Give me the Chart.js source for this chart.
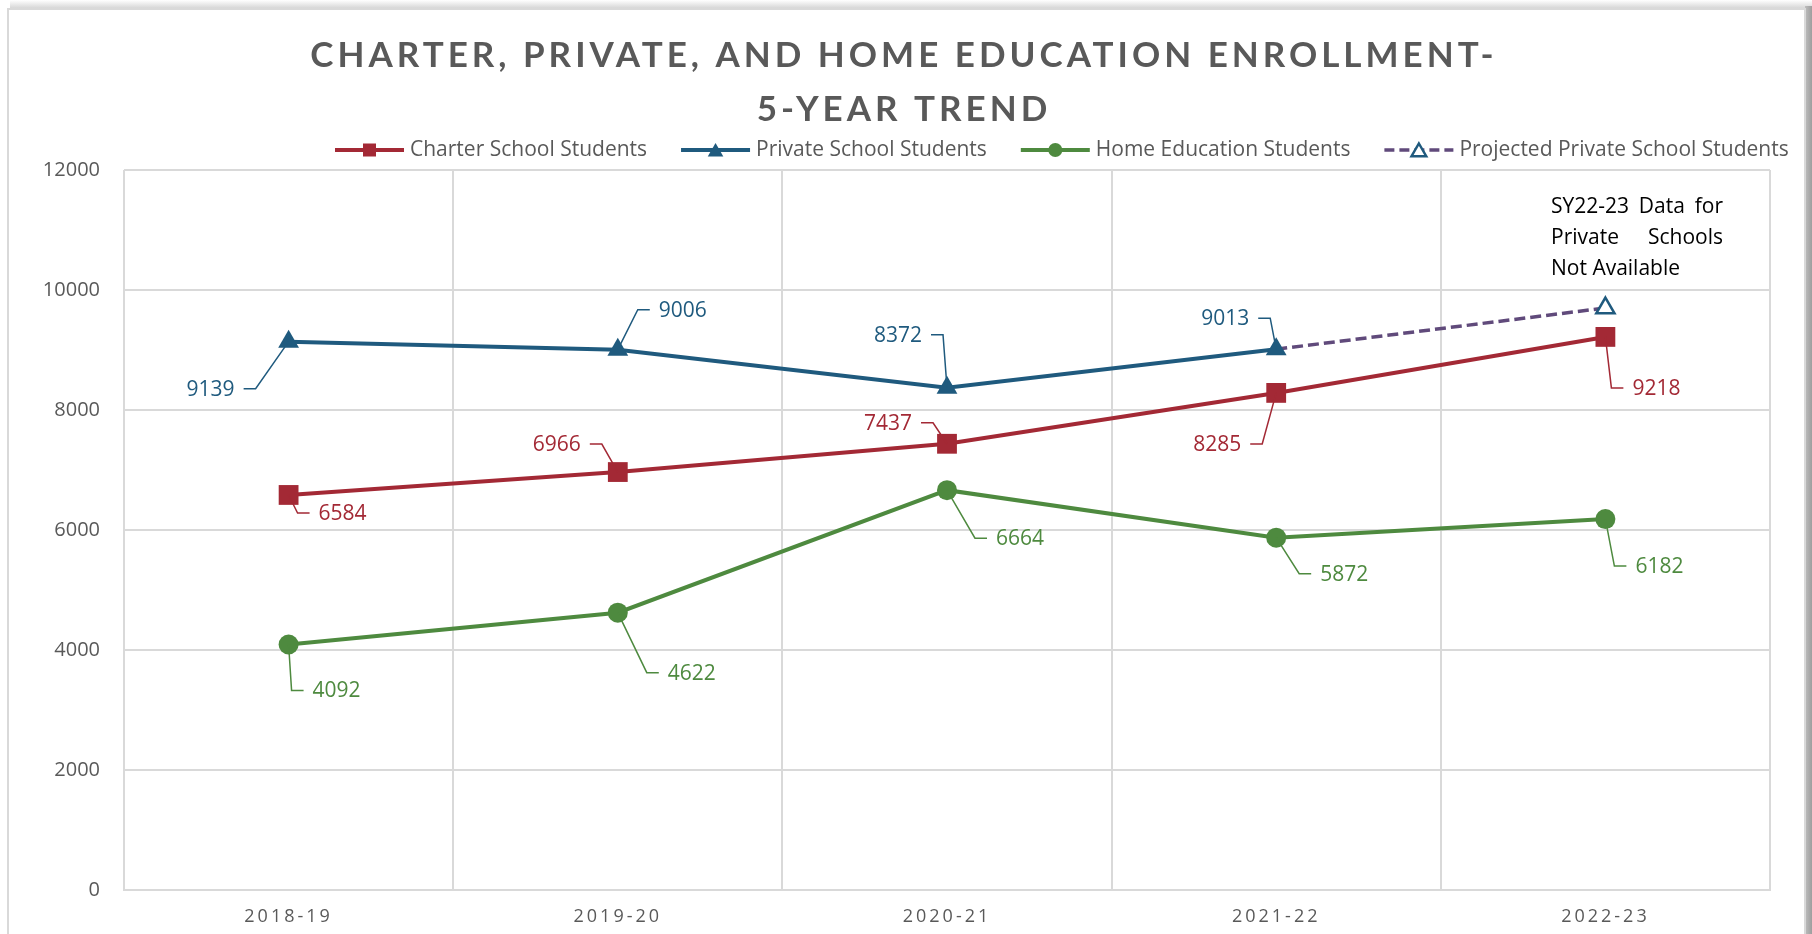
<!DOCTYPE html>
<html>
<head>
<meta charset="utf-8">
<title>Charter, Private, and Home Education Enrollment</title>
<script src="https://cdn.jsdelivr.net/npm/chart.js@4.4.1/dist/chart.umd.min.js"></script>
<style>
  html, body { margin: 0; padding: 0; background: #ffffff; }
  #wrap { width: 1812px; height: 934px; }
</style>
</head>
<body>
<div id="wrap"><canvas id="enrollment" width="1812" height="934"></canvas></div>
<script>
// ---- data ----
const categories = ['2018-19', '2019-20', '2020-21', '2021-22', '2022-23'];
const charterStudents = [6584, 6966, 7437, 8285, 9218];
const privateStudents = [9139, 9006, 8372, 9013, null];
const homeStudents = [4092, 4622, 6664, 5872, 6182];
const projectedPrivate = [null, null, null, 9013, 9700];
const yMin = 0, yMax = 12000, yStep = 2000;

const titleLines = ['CHARTER, PRIVATE, AND HOME EDUCATION ENROLLMENT-', '5-YEAR TREND'];
const seriesNames = ['Charter School Students', 'Private School Students', 'Home Education Students', 'Projected Private School Students'];
const noteLines = ['SY22-23 Data for', 'Private Schools', 'Not Available'];

// ---- styling ----
const FONT = '"Open Sans", "Noto Sans", sans-serif';
const TITLE_FONT = 'Lato, "Open Sans", sans-serif';
const GREY_TEXT = '#595959';
const GRID = '#d9d9d9';
const RED = '#a32935';
const BLUE = '#1f5a7e';
const GREEN = '#4e8a3f';
const PURPLE = '#604a7b';

// value label placement: offset of the label centre from its point [dx, dy]
const charterLabelPos = [[54, 18], [-61, -28], [-59, -21], [-59, 51], [51, 51]];
const privateLabelPos = [[-78, 47], [65, -40], [-49, -53], [-51, -31], null];
const homeLabelPos = [[48, 46], [74, 60], [73, 48], [68, 36], [54, 47]];

// draw with extra tracking between letters
function withSpacing(obj, method, spacing) {
  if (!obj || obj['__spaced_' + method]) return;
  const orig = obj[method].bind(obj);
  obj[method] = function (...args) {
    const ctx = this.ctx;
    ctx.save();
    ctx.letterSpacing = spacing;
    orig(...args);
    ctx.restore();
  };
  obj['__spaced_' + method] = true;
}

function marker(ctx, style, x, y, r, fill, stroke, lw) {
  ctx.save();
  ctx.beginPath();
  if (style === 'rect') {
    ctx.rect(x - r, y - r, 2 * r, 2 * r);
  } else if (style === 'circle') {
    ctx.arc(x, y, r, 0, Math.PI * 2);
  } else {
    ctx.moveTo(x, y - r);
    ctx.lineTo(x + r * 0.866, y + r * 0.5);
    ctx.lineTo(x - r * 0.866, y + r * 0.5);
    ctx.closePath();
  }
  ctx.fillStyle = fill;
  ctx.fill();
  if (stroke) { ctx.lineWidth = lw; ctx.strokeStyle = stroke; ctx.stroke(); }
  ctx.restore();
}

const framePlugin = {
  id: 'frame',
  beforeDraw(chart) {
    const { ctx, width, height } = chart;
    ctx.save();
    ctx.fillStyle = '#ffffff';
    ctx.fillRect(0, 0, width, height);
    const gTop = ctx.createLinearGradient(0, 0, 0, 9);
    gTop.addColorStop(0, '#ffffff');
    gTop.addColorStop(1, '#d2d2d2');
    ctx.fillStyle = gTop;
    ctx.fillRect(10, 0, width - 10, 9);
    const gRight = ctx.createLinearGradient(width - 7, 0, width, 0);
    gRight.addColorStop(0, '#bdbdbd');
    gRight.addColorStop(1, '#9e9e9e');
    ctx.fillStyle = gRight;
    ctx.fillRect(width - 7, 6, 7, height);
    ctx.fillStyle = '#ffffff';
    ctx.fillRect(8, 9, width - 16, height);
    ctx.strokeStyle = GRID;
    ctx.lineWidth = 2;
    ctx.strokeRect(8, 9, width - 15, height + 10);
    ctx.restore();
  },
  afterLayout(chart) {
    withSpacing(chart.titleBlock, 'draw', '4px');
    withSpacing(chart.scales.x, 'drawLabels', '3px');
  }
};

const legendPlugin = {
  id: 'lineLegend',
  afterDraw(chart) {
    const ctx = chart.ctx;
    const y = 150;
    let x = 335;
    const items = [
      { name: seriesNames[0], color: RED, style: 'rect', dash: [], r: 6.5, fill: RED },
      { name: seriesNames[1], color: BLUE, style: 'triangle', dash: [], r: 9, fill: BLUE },
      { name: seriesNames[2], color: GREEN, style: 'circle', dash: [], r: 7, fill: GREEN },
      { name: seriesNames[3], color: PURPLE, style: 'triangle', dash: [10, 5], r: 8.5, fill: '#ffffff', stroke: BLUE }
    ];
    ctx.save();
    ctx.font = '21px ' + FONT;
    ctx.textBaseline = 'middle';
    items.forEach(it => {
      ctx.save();
      ctx.strokeStyle = it.color;
      ctx.lineWidth = it.dash.length ? 3.5 : 4;
      ctx.setLineDash(it.dash);
      ctx.beginPath();
      ctx.moveTo(x, y);
      ctx.lineTo(x + 69, y);
      ctx.stroke();
      ctx.restore();
      marker(ctx, it.style, x + 34.5, y + (it.style === 'triangle' ? 2 : 0), it.r, it.fill, it.stroke, 2.5);
      ctx.fillStyle = GREY_TEXT;
      ctx.fillText(it.name, x + 75, y);
      x += 75 + ctx.measureText(it.name).width + 34;
    });
    ctx.restore();
  }
};

const valueLabelPlugin = {
  id: 'valueLabels',
  afterDatasetsDraw(chart) {
    const ctx = chart.ctx;
    ctx.save();
    ctx.font = '21px ' + FONT;
    ctx.textBaseline = 'middle';
    ctx.textAlign = 'center';
    chart.data.datasets.forEach((ds, i) => {
      if (!ds.labelPos) return;
      const meta = chart.getDatasetMeta(i);
      ds.data.forEach((v, j) => {
        const pos = ds.labelPos[j];
        if (v === null || !pos) return;
        const el = meta.data[j];
        const px = el.x, py = el.y;
        const text = String(v);
        const w = ctx.measureText(text).width;
        const cx = px + pos[0], cy = py + pos[1];
        let sx, ex;
        if (pos[0] < 0) { sx = cx + w / 2 + 9; ex = sx + 12; }
        else { sx = cx - w / 2 - 9; ex = sx - 12; }
        ctx.strokeStyle = ds.borderColor;
        ctx.lineWidth = 1.5;
        ctx.beginPath();
        ctx.moveTo(px, py);
        ctx.lineTo(ex, cy);
        ctx.lineTo(sx, cy);
        ctx.stroke();
        ctx.fillStyle = ds.borderColor;
        ctx.fillText(text, cx, cy + 1);
      });
    });
    ctx.restore();
  }
};

const notePlugin = {
  id: 'note',
  afterDraw(chart) {
    const ctx = chart.ctx;
    const area = chart.chartArea;
    const left = area.right - 219, right = area.right - 47;
    ctx.save();
    ctx.font = '21px ' + FONT;
    ctx.fillStyle = '#000000';
    ctx.textBaseline = 'middle';
    ctx.textAlign = 'left';
    noteLines.forEach((line, k) => {
      const y = area.top + 37 + k * 31;
      const words = line.split(' ');
      if (k === noteLines.length - 1 || words.length < 2) {
        ctx.fillText(line, left, y);
        return;
      }
      const total = words.reduce((s, wd) => s + ctx.measureText(wd).width, 0);
      const gap = (right - left - total) / (words.length - 1);
      let x = left;
      words.forEach(wd => {
        ctx.fillText(wd, x, y);
        x += ctx.measureText(wd).width + gap;
      });
    });
    ctx.restore();
  }
};

new Chart(document.getElementById('enrollment'), {
  type: 'line',
  data: {
    labels: categories,
    datasets: [
      {
        label: seriesNames[0], data: charterStudents, labelPos: charterLabelPos,
        borderColor: RED, backgroundColor: RED, borderWidth: 4,
        pointStyle: 'rect', pointRadius: 14, pointHoverRadius: 14,
        pointBackgroundColor: RED, pointBorderWidth: 0
      },
      {
        label: seriesNames[1], data: privateStudents, labelPos: privateLabelPos,
        borderColor: BLUE, backgroundColor: BLUE, borderWidth: 4,
        pointStyle: 'triangle', pointRadius: 12, pointHoverRadius: 12,
        pointBackgroundColor: BLUE, pointBorderWidth: 0
      },
      {
        label: seriesNames[2], data: homeStudents, labelPos: homeLabelPos,
        borderColor: GREEN, backgroundColor: GREEN, borderWidth: 4,
        pointStyle: 'circle', pointRadius: 10, pointHoverRadius: 10,
        pointBackgroundColor: GREEN, pointBorderWidth: 0
      },
      {
        label: seriesNames[3], data: projectedPrivate,
        borderColor: PURPLE, backgroundColor: '#ffffff', borderWidth: 3.5, borderDash: [11, 5],
        pointStyle: 'triangle', pointRadius: [0, 0, 0, 0, 10.5], pointHoverRadius: [0, 0, 0, 0, 10.5],
        pointBackgroundColor: '#ffffff', pointBorderColor: BLUE, pointBorderWidth: 2.5
      }
    ]
  },
  options: {
    responsive: false,
    animation: false,
    devicePixelRatio: 1,
    events: [],
    layout: { padding: { left: 38, right: 42, top: 0, bottom: 0 } },
    plugins: {
      legend: { display: false },
      tooltip: { enabled: false },
      title: {
        display: true,
        text: titleLines,
        color: GREY_TEXT,
        font: { family: TITLE_FONT, size: 35, weight: 'bold', lineHeight: 54 / 35 },
        padding: { top: 29, bottom: 33 }
      }
    },
    scales: {
      x: {
        offset: true,
        grid: { offset: true, color: GRID, lineWidth: 2, drawTicks: false },
        border: { color: GRID, width: 2 },
        ticks: { color: GREY_TEXT, font: { family: FONT, size: 18 }, padding: 16, maxRotation: 0 },
        afterFit(scale) { scale.height = 44; }
      },
      y: {
        min: yMin, max: yMax,
        grid: { color: GRID, lineWidth: 2, drawTicks: false },
        border: { display: false },
        ticks: {
          stepSize: yStep, color: GREY_TEXT, font: { family: FONT, size: 20 }, padding: 24,
          callback: (value) => String(value)
        },
        afterFit(scale) { scale.width = 86; }
      }
    }
  },
  plugins: [framePlugin, legendPlugin, valueLabelPlugin, notePlugin]
});
</script>
</body>
</html>
